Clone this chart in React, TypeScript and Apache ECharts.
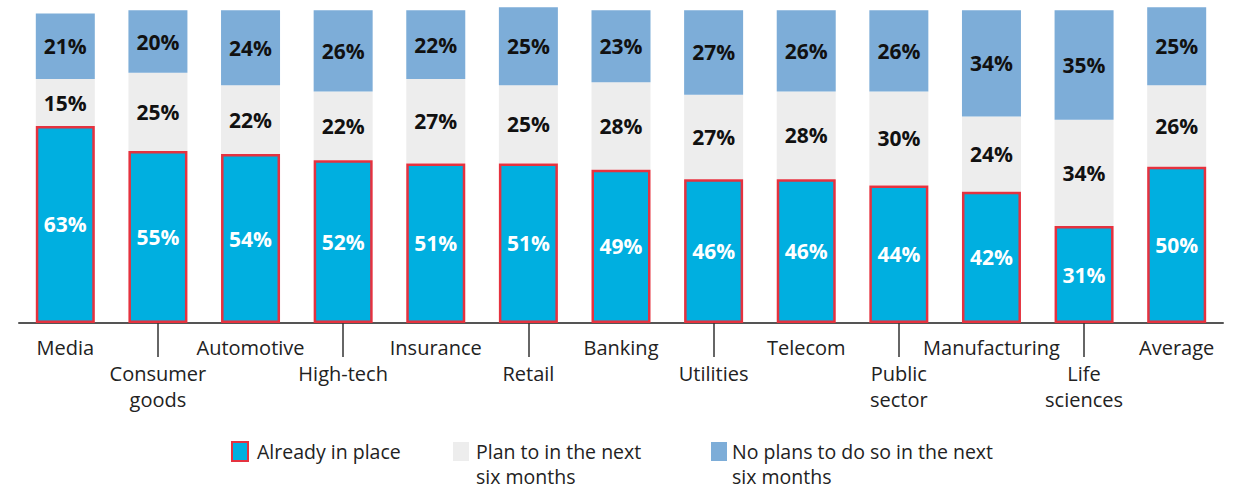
import React, { useEffect, useRef } from "react";
import * as echarts from "echarts";

const categories = [
  "Media", "Consumer\ngoods", "Automotive", "High-tech", "Insurance", "Retail", "Banking",
  "Utilities", "Telecom", "Public\nsector", "Manufacturing", "Life\nsciences", "Average",
];
const alreadyInPlace = [63, 55, 54, 52, 51, 51, 49, 46, 46, 44, 42, 31, 50];
const planNextSix = [15, 25, 22, 22, 27, 25, 28, 27, 28, 30, 24, 34, 26];
const noPlans = [21, 20, 24, 26, 22, 25, 23, 27, 26, 26, 34, 35, 25];
const seriesNames = [
  "Already in place",
  "Plan to in the next\nsix months",
  "No plans to do so in the next\nsix months",
];

const FONT = "'Open Sans', 'Noto Sans', sans-serif";
const CYAN = "#00AFE0";
const RED = "#E5323F";
const GRAY = "#EDEDED";
const BLUE = "#7DADD8";

export default function App() {
  const ref = useRef<HTMLDivElement>(null);
  useEffect(() => {
    if (!ref.current) return;
    const chart = echarts.init(ref.current, null, { renderer: "svg" });
    const valueLabel = (color: string) => ({
      show: true,
      position: "inside",
      formatter: "{c}%",
      color,
      fontFamily: FONT,
      fontWeight: "bold",
      fontSize: 21,
    });
    const legendBase = {
      orient: "horizontal",
      padding: 0,
      itemWidth: 16,
      itemHeight: 19,
      icon: "rect",
      selectedMode: false,
    };
    const legendText = { fontFamily: FONT, fontSize: 19.5, color: "#222", lineHeight: 25 };
    chart.setOption({
      animation: false,
      backgroundColor: "#ffffff",
      grid: { left: 19, right: 11, top: 4, height: 319 },
      legend: [
        {
          ...legendBase,
          data: [seriesNames[0]],
          left: 231,
          top: 439,
          textStyle: { ...legendText, padding: [0, 0, 0, 4] },
        },
        {
          ...legendBase,
          data: [seriesNames[1]],
          left: 453,
          top: 414,
          formatter: (name: string) => "\n" + name,
          textStyle: { ...legendText, padding: [0, 0, 0, 2] },
        },
        {
          ...legendBase,
          data: [seriesNames[2]],
          left: 711,
          top: 414,
          formatter: (name: string) => "\n" + name,
          textStyle: { ...legendText, padding: [0, 0, 0, 0] },
        },
      ],
      xAxis: {
        type: "category",
        data: categories,
        axisLine: { lineStyle: { color: "#555", width: 2 } },
        axisTick: {
          show: true,
          alignWithLabel: true,
          length: 34,
          interval: (index: number) => index % 2 === 1,
          lineStyle: { color: "#333", width: 1.5 },
        },
        axisLabel: {
          interval: 0,
          margin: 11,
          fontFamily: FONT,
          fontSize: 20,
          lineHeight: 26,
          color: "#222",
          formatter: (value: string, index: number) => (index % 2 === 1 ? "\n" + value : value),
        },
      },
      yAxis: { type: "value", min: 0, max: 102, show: false, splitLine: { show: false } },
      series: [
        {
          name: seriesNames[0],
          type: "bar",
          stack: "total",
          barWidth: 59,
          data: alreadyInPlace,
          itemStyle: { color: CYAN, borderColor: RED, borderWidth: 2.5 },
          label: valueLabel("#ffffff"),
          z: 3,
        },
        {
          name: seriesNames[1],
          type: "bar",
          stack: "total",
          barWidth: 59,
          data: planNextSix,
          itemStyle: { color: GRAY },
          label: valueLabel("#111111"),
          z: 2,
        },
        {
          name: seriesNames[2],
          type: "bar",
          stack: "total",
          barWidth: 59,
          data: noPlans,
          itemStyle: { color: BLUE },
          label: valueLabel("#111111"),
          z: 2,
        },
      ],
    });
    return () => chart.dispose();
  }, []);
  return (
    <div
      ref={ref}
      style={{ position: "absolute", left: 0, top: 0, width: 1234, height: 490, background: "#fff" }}
    />
  );
}
